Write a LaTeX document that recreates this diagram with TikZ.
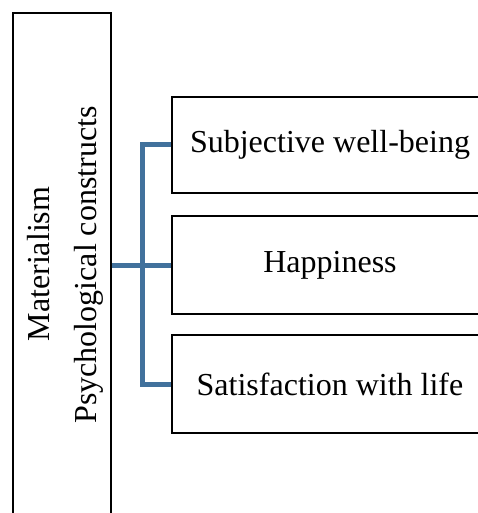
\documentclass[tikz,border=0pt]{standalone}
\usepackage{fontspec}
\setmainfont{Liberation Serif}
\definecolor{linkblue}{RGB}{65,113,156}
\begin{document}
\begin{tikzpicture}[x=1bp,y=-1bp,
  box/.style={draw=black,line width=1.3bp,fill=white,rectangle,inner sep=0pt},
  lbl/.style={font=\fontsize{32bp}{46bp}\selectfont,inner sep=0pt},
  conn/.style={draw=linkblue,line width=5bp}]
\useasboundingbox (0,0) rectangle (478,513);
\clip (0,0) rectangle (478,513);
\fill[white] (0,0) rectangle (478,513);
% left box
\node[box,minimum width=98bp,minimum height=504bp] (mat) at (62,265) {};
\node[lbl,rotate=90,anchor=base] (t1) at (49.5,264) {Materialism};
\node[lbl,rotate=90,anchor=base] (t2) at (96,265) {Psychological constructs};
% right boxes
\node[box,minimum width=316bp,minimum height=96bp] (swb) at (330,145) {};
\node[box,minimum width=316bp,minimum height=98bp] (hap) at (330,265) {};
\node[box,minimum width=316bp,minimum height=98bp] (sat) at (330,384) {};
\node[lbl] (l1) at (330,145) {Subjective well-being};
\node[lbl] (l2) at (330,265) {Happiness};
\node[lbl] (l3) at (330,384) {Satisfaction with life};
% connectors
\coordinate (jt) at (142,145);
\coordinate (jb) at (142,384);
\draw[conn] (mat.east) -- (hap.west);
\draw[conn,line join=miter] (swb.west) -- (jt) -- (jb) -- (sat.west);
\end{tikzpicture}
\end{document}
